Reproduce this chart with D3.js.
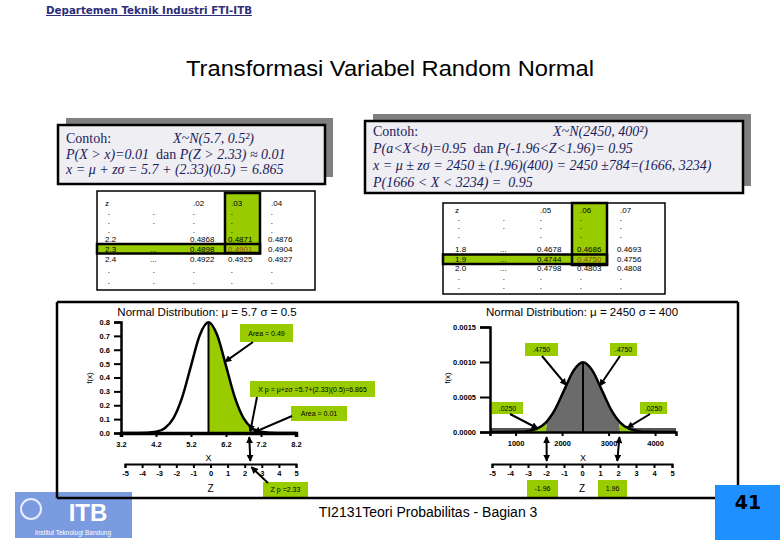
<!DOCTYPE html>
<html><head><meta charset="utf-8">
<script src="https://cdn.jsdelivr.net/npm/d3@7"></script>
<style>
body{margin:0;background:#fff;}
svg{display:block;}
</style></head><body>
<svg id="c" width="780" height="540"></svg>
<script>
// ---------------- DATA ----------------
const headerText = "Departemen Teknik Industri FTI-ITB";
const titleText = "Transformasi Variabel Random Normal";
const footerText = "TI2131Teori Probabilitas - Bagian 3";
const pageNumber = "41";
const logoName = "Institut Teknologi Bandung";

// example boxes: lines of [text, italic]
const leftHeading = ["Contoh:", "X~N(5.7, 0.5²)"];
const leftLines = [
  [["P(X > x)=0.01", true], ["  dan ", false], ["P(Z > 2.33) ≈ 0.01", true]],
  [["x = μ + zσ = 5.7 + (2.33)(0.5) = 6.865", true]]
];
const rightHeading = ["Contoh:", "X~N(2450, 400²)"];
const rightLines = [
  [["P(a<X<b)=0.95", true], ["  dan ", false], ["P(-1.96<Z<1.96)= 0.95", true]],
  [["x = μ ± zσ = 2450 ± (1.96)(400) = 2450 ±784=(1666, 3234)", true]],
  [["P(1666 < X < 3234) =  0.95", true]]
];

// z tables
const leftTableRows = [
  ["z", "", ".02", ".03", ".04"],
  [".", ".", ".", ".", "."],
  [".", ".", ".", ".", "."],
  [".", "", ".", ".", "."],
  ["2.2", "", "0.4868", "0.4871", "0.4876"],
  ["2.3", "...", "0.4898", "0.4901", "0.4904"],
  ["2.4", "...", "0.4922", "0.4925", "0.4927"],
  [".", ".", ".", ".", "."],
  [".", ".", ".", ".", "."]
];
const rightTableRows = [
  ["z", "", ".05", ".06", ".07"],
  [".", ".", ".", ".", "."],
  [".", ".", ".", ".", "."],
  [".", "", ".", ".", "."],
  ["1.8", "...", "0.4678", "0.4686", "0.4693"],
  ["1.9", "...", "0.4744", "0.4750", "0.4756"],
  ["2.0", "...", "0.4798", "0.4803", "0.4808"],
  [".", ".", ".", ".", "."],
  [".", ".", ".", ".", "."]
];

// left distribution N(5.7, 0.5^2) — curve samples
const leftMu = 5.7, leftXp = 6.865, leftZp = 2.33;
const leftCurveX = [3.2,3.45,3.7,3.95,4.2,4.45,4.7,4.95,5.2,5.45,5.7,5.95,6.2,6.45,6.7,6.95,7.2,7.45,7.7,7.95,8.2];
const leftCurveY = [0.0000,0.0000,0.0003,0.0017,0.0089,0.0350,0.1080,0.2591,0.4839,0.7041,0.7979,0.7041,0.4839,0.2591,0.1080,0.0350,0.0089,0.0017,0.0003,0.0000,0.0000];
const leftXTicks = [3.2,4.2,5.2,6.2,7.2,8.2];
const leftYTicks = [0,0.1,0.2,0.3,0.4,0.5,0.6,0.7,0.8];
const zTicks = [-5,-4,-3,-2,-1,0,1,2,3,4,5];
const leftTitle = "Normal Distribution: μ = 5.7 σ = 0.5";

// right distribution N(2450, 400^2)
const rightMu = 2450, rightLo = 1666, rightHi = 3234;
const rightCurveX = [450,650,850,1050,1250,1450,1650,1850,2050,2250,2450,2650,2850,3050,3250,3450,3650,3850,4050,4250,4450];
const rightCurveY = [0.0000000,0.0000000,0.0000003,0.0000022,0.0000111,0.0000438,0.0001349,0.0003238,0.0006049,0.0008801,0.0009973,0.0008801,0.0006049,0.0003238,0.0001349,0.0000438,0.0000111,0.0000022,0.0000003,0.0000000,0.0000000];
const rightXTicks = [1000,2000,3000,4000];
const rightYTicks = [0,0.0005,0.0010,0.0015];
const rightTitle = "Normal Distribution: μ = 2450 σ = 400";

// annotation labels
const leftAnn = {area49: "Area = 0.49", xp: "X p = μ+zσ =5.7+(2.33)(0.5)=6.865", area01: "Area = 0.01", zp: "Z p =2.33"};
const rightAnn = {mid: ".4750", tail: ".0250", zLo: "-1.96", zHi: "1.96"};

// ---------------- DRAW ----------------
const svg = d3.select("#c");
const GREEN = "#99cc00", DGRAY = "#6b6b6b", NAVY = "#1c1c5c";
const defs = svg.append("defs");
defs.append("marker").attr("id","ah").attr("viewBox","0 0 10 10")
  .attr("refX",9).attr("refY",5).attr("markerWidth",7).attr("markerHeight",7)
  .attr("markerUnits","userSpaceOnUse").attr("orient","auto-start-reverse")
  .append("path").attr("d","M0,0L10,5L0,10z").attr("fill","#000");

// header & title
svg.append("text").attr("x",46).attr("y",14).text(headerText)
  .attr("font-family","DejaVu Sans, Verdana").attr("font-weight","bold").attr("font-size",10)
  .attr("fill","#2e2e7a").attr("text-decoration","underline")
  .attr("textLength",206).attr("lengthAdjust","spacingAndGlyphs");
svg.append("text").attr("x",390).attr("y",76).attr("text-anchor","middle").text(titleText)
  .attr("font-family","Liberation Sans, Arial").attr("font-size",22).attr("fill","#000")
  .attr("textLength",408).attr("lengthAdjust","spacingAndGlyphs");

// example boxes
function drawBox(x, y, w, h, heading, headOffset, lines, y0, lh, fs) {
  svg.append("rect").attr("x",x+8).attr("y",y-7).attr("width",w).attr("height",h).attr("fill","#808080");
  svg.append("rect").attr("x",x).attr("y",y).attr("width",w).attr("height",h)
    .attr("fill","#eeeef3").attr("stroke","#000").attr("stroke-width",2.5);
  const g = svg.append("g").attr("font-family","Liberation Serif, Times New Roman").attr("font-size",fs).attr("fill",NAVY);
  g.append("text").attr("x",x+8).attr("y",y0).text(heading[0]);
  g.append("text").attr("x",x+8+headOffset).attr("y",y0).attr("font-style","italic").text(heading[1]);
  lines.forEach((segs,i)=>{
    const t = g.append("text").attr("x",x+8).attr("y",y0+lh*(i+1)).attr("xml:space","preserve");
    segs.forEach(s=>t.append("tspan").attr("font-style",s[1]?"italic":"normal").text(s[0]));
  });
}
drawBox(58,125,267,59,leftHeading,107,leftLines,143,15.5,14);
drawBox(365,121,378,72,rightHeading,180,rightLines,136,17,14);

// z tables
function drawTable(rows, fx, fy, fw, fh, colX, rowY, hc, hr, hcRect, hrRect) {
  const g = svg.append("g");
  g.append("rect").attr("x",fx).attr("y",fy).attr("width",fw).attr("height",fh).attr("fill","#fff").attr("stroke","#000").attr("stroke-width",1.5);
  g.append("rect").attr("x",hcRect[0]).attr("y",hcRect[1]).attr("width",hcRect[2]).attr("height",hcRect[3]).attr("fill",GREEN);
  g.append("rect").attr("x",hrRect[0]).attr("y",hrRect[1]).attr("width",hrRect[2]).attr("height",hrRect[3]).attr("fill",GREEN);
  g.append("rect").attr("x",hcRect[0]).attr("y",hcRect[1]).attr("width",hcRect[2]).attr("height",hcRect[3]).attr("fill","none").attr("stroke","#000").attr("stroke-width",2.5);
  g.append("rect").attr("x",hrRect[0]).attr("y",hrRect[1]).attr("width",hrRect[2]).attr("height",hrRect[3]).attr("fill","none").attr("stroke","#000").attr("stroke-width",2.5);
  const tg = g.append("g").attr("font-family","Liberation Sans, Arial").attr("font-size",8);
  rows.forEach((r,i)=>{
    r.forEach((v,j)=>{
      if(!v) return;
      const hdr = (i===0 && j>=2);
      const isDot = v===".";
      tg.append("text").attr("x",colX[j]+(hdr?3:(isDot?3:0))).attr("y",rowY[i]).text(v)
        .attr("font-size",isDot?6:8)
        .attr("fill",(i===hr && j===hc)?"#a0401a":"#000")
        .attr("font-weight",isDot?"bold":"normal");
    });
  });
}
drawTable(leftTableRows,97,191,218,99,[105,150,190,228,268],[206,215,224,233,242,251.5,262,273,284],3,5,[225,193,35,60],[97,244,163,9.5]);
drawTable(rightTableRows,443,203,222,91,[455,500,537,577,617],[213,221,229,238,252,261.5,271,280,289],3,5,[572,203,35,62],[443,254.5,164,9.5]);

// ---------- chart helpers ----------
function styleAxis(g, sw) {
  g.selectAll("path.domain").attr("stroke","#000").attr("stroke-width",sw);
  g.selectAll(".tick line").attr("stroke","#000").attr("stroke-width",2);
  g.selectAll(".tick text").attr("font-family","Liberation Sans, Arial").attr("font-size",7.5).attr("font-weight","bold").attr("fill","#000");
}
function arrow(x1,y1,x2,y2,both){
  const l = svg.append("line").attr("x1",x1).attr("y1",y1).attr("x2",x2).attr("y2",y2)
    .attr("stroke","#000").attr("stroke-width",2).attr("marker-end","url(#ah)");
  if(both) l.attr("marker-start","url(#ah)");
}
function label(x,y,w,h,txt){
  svg.append("rect").attr("x",x).attr("y",y).attr("width",w).attr("height",h).attr("fill",GREEN);
  svg.append("text").attr("x",x+w/2).attr("y",y+h/2+2.5).attr("text-anchor","middle")
    .attr("font-family","Liberation Sans, Arial").attr("font-size",7).attr("fill","#000").text(txt);
}
let clipId = 0;
function clippedArea(pts, xS, yS, x0, x1, fill){
  const id = "cl"+(clipId++);
  defs.append("clipPath").attr("id",id).append("rect")
    .attr("x",xS(x0)).attr("y",0).attr("width",xS(x1)-xS(x0)).attr("height",540);
  const area = d3.area().x(d=>xS(d[0])).y0(yS(0)).y1(d=>yS(d[1])).curve(d3.curveMonotoneX);
  svg.append("path").datum(pts).attr("d",area).attr("fill",fill).attr("clip-path","url(#"+id+")");
}
const intFmt = d => String(d);

// ---------- left chart ----------
const xL = d3.scaleLinear().domain([3.2,8.2]).range([121,296]);
const yL = d3.scaleLinear().domain([0,0.8]).range([433,322]);
const zL = d3.scaleLinear().domain([-5,5]).range([125,296]);
const ptsL = leftCurveX.map((x,i)=>[x,leftCurveY[i]]);
svg.append("text").attr("x",207).attr("y",316).attr("text-anchor","middle").text(leftTitle)
  .attr("font-family","Liberation Sans, Arial").attr("font-size",11.5);
clippedArea(ptsL,xL,yL,leftMu,leftXp,GREEN);
clippedArea(ptsL,xL,yL,leftXp,8.2,DGRAY);
svg.append("line").attr("x1",xL(leftMu)).attr("x2",xL(leftMu)).attr("y1",yL(0)).attr("y2",yL(d3.max(leftCurveY)))
  .attr("stroke","#000").attr("stroke-width",2);
svg.append("path").datum(ptsL).attr("d",d3.line().x(d=>xL(d[0])).y(d=>yL(d[1])).curve(d3.curveMonotoneX))
  .attr("fill","none").attr("stroke","#000").attr("stroke-width",2.5);
styleAxis(svg.append("g").attr("transform","translate(0,433)")
  .call(d3.axisBottom(xL).tickValues(leftXTicks).tickFormat(d3.format(".1f")).tickSizeOuter(0).tickSize(4).tickPadding(5)),3.5);
styleAxis(svg.append("g").attr("transform","translate(121,0)")
  .call(d3.axisLeft(yL).tickValues(leftYTicks).tickFormat(d3.format(".1f")).tickSizeOuter(0).tickSize(7).tickPadding(4)),2.5);
styleAxis(svg.append("g").attr("transform","translate(0,464)")
  .call(d3.axisBottom(zL).tickValues(zTicks).tickFormat(intFmt).tickSizeOuter(0).tickSize(4).tickPadding(3)),2);
svg.append("text").attr("transform","translate(92,378) rotate(-90)").attr("text-anchor","middle").text("f(x)")
  .attr("font-family","Liberation Sans, Arial").attr("font-size",8);
svg.append("text").attr("x",xL(leftMu)).attr("y",461).attr("text-anchor","middle").text("X")
  .attr("font-family","Liberation Sans, Arial").attr("font-size",9);
svg.append("text").attr("x",zL(0)).attr("y",492).attr("text-anchor","middle").text("Z")
  .attr("font-family","Liberation Sans, Arial").attr("font-size",10);
label(240,324,53,18,leftAnn.area49);
arrow(253,342,xL(6.17),yL(0.513));
label(250,381,125,16,leftAnn.xp);
arrow(257,397,xL(leftXp)+1,yL(0.012));
label(291,406,56,15,leftAnn.area01);
arrow(292,416,xL(7.0),yL(0.004));
arrow(xL(leftXp),437,zL(leftZp),461,true);
label(263,482,45,15,leftAnn.zp);
arrow(268,483,zL(leftZp)+1,467);

// ---------- right chart ----------
const xR = d3.scaleLinear().domain([450,4450]).range([490,676]);
const yR = d3.scaleLinear().domain([0,0.0015]).range([432,327]);
const zR = d3.scaleLinear().domain([-5,5]).range([492,672]);
const ptsR = rightCurveX.map((x,i)=>[x,rightCurveY[i]]);
svg.append("text").attr("x",582).attr("y",316).attr("text-anchor","middle").text(rightTitle)
  .attr("font-family","Liberation Sans, Arial").attr("font-size",11.5);
svg.append("rect").attr("x",xR(450)).attr("y",428).attr("width",xR(4450)-xR(450)).attr("height",4).attr("fill","#555");
clippedArea(ptsR,xR,yR,450,rightLo,GREEN);
clippedArea(ptsR,xR,yR,rightLo,rightHi,DGRAY);
clippedArea(ptsR,xR,yR,rightHi,4450,GREEN);
svg.append("line").attr("x1",xR(rightMu)).attr("x2",xR(rightMu)).attr("y1",yR(0)).attr("y2",yR(d3.max(rightCurveY)))
  .attr("stroke","#000").attr("stroke-width",2);
svg.append("path").datum(ptsR).attr("d",d3.line().x(d=>xR(d[0])).y(d=>yR(d[1])).curve(d3.curveMonotoneX))
  .attr("fill","none").attr("stroke","#000").attr("stroke-width",2.5);
styleAxis(svg.append("g").attr("transform","translate(0,432)")
  .call(d3.axisBottom(xR).tickValues(rightXTicks).tickFormat(intFmt).tickSizeOuter(0).tickSize(4).tickPadding(5)),2.5);
styleAxis(svg.append("g").attr("transform","translate(490,0)")
  .call(d3.axisLeft(yR).tickValues(rightYTicks).tickFormat(d3.format(".4f")).tickSizeOuter(0).tickSize(10).tickPadding(4)),2.5);
styleAxis(svg.append("g").attr("transform","translate(0,464)")
  .call(d3.axisBottom(zR).tickValues(zTicks).tickFormat(intFmt).tickSizeOuter(0).tickSize(4).tickPadding(3)),2);
svg.append("text").attr("transform","translate(450,378) rotate(-90)").attr("text-anchor","middle").text("f(x)")
  .attr("font-family","Liberation Sans, Arial").attr("font-size",8);
svg.append("text").attr("x",xR(rightMu)).attr("y",461).attr("text-anchor","middle").text("X")
  .attr("font-family","Liberation Sans, Arial").attr("font-size",9);
svg.append("text").attr("x",zR(0)).attr("y",492).attr("text-anchor","middle").text("Z")
  .attr("font-family","Liberation Sans, Arial").attr("font-size",10);
label(525,343,33,13,rightAnn.mid);
arrow(542,356,xR(2090),yR(0.00067));
label(610,343,27,13,rightAnn.mid);
arrow(620,356,xR(2810),yR(0.00066));
label(492,402,31,12,rightAnn.tail);
arrow(510,414,xR(1480),yR(0.00005));
label(640,402,27,12,rightAnn.tail);
arrow(650,414,xR(3400),yR(0.00006));
arrow(xR(rightLo),437,zR(-1.96),461,true);
arrow(xR(rightHi),437,zR(1.96),461,true);
label(527,480,31,17,rightAnn.zLo);
label(598,480,29,17,rightAnn.zHi);

// ---------- logo ----------
svg.append("rect").attr("x",15).attr("y",492).attr("width",117).attr("height",46).attr("fill","#7b9be0");
svg.append("circle").attr("cx",31).attr("cy",509).attr("r",10).attr("fill","none").attr("stroke","#e8eeff").attr("stroke-width",2);
svg.append("text").attr("x",88).attr("y",521).attr("text-anchor","middle").text("ITB")
  .attr("font-family","Liberation Sans, Arial").attr("font-weight","bold").attr("font-size",24).attr("fill","#fff");
svg.append("text").attr("x",73).attr("y",535).attr("text-anchor","middle").text(logoName)
  .attr("font-family","Liberation Sans, Arial").attr("font-size",6.5).attr("fill","#fff");

// ---------- frame ----------
const fr = svg.append("g").attr("stroke","#000").attr("stroke-width",2.5);
fr.append("line").attr("x1",57).attr("y1",302).attr("x2",738).attr("y2",302);
fr.append("line").attr("x1",57).attr("y1",302).attr("x2",57).attr("y2",498);
fr.append("line").attr("x1",57).attr("y1",498).attr("x2",715).attr("y2",498);
fr.append("line").attr("x1",738).attr("y1",302).attr("x2",738).attr("y2",485);

// footer & page number
svg.append("text").attr("x",428).attr("y",517).attr("text-anchor","middle").text(footerText)
  .attr("font-family","Liberation Sans, Arial").attr("font-size",14).attr("fill","#000");
svg.append("rect").attr("x",715).attr("y",485).attr("width",65).attr("height",55).attr("fill","#1e90ff");
svg.append("text").attr("x",748).attr("y",509).attr("text-anchor","middle").text(pageNumber)
  .attr("font-family","DejaVu Sans, Verdana").attr("font-weight","bold").attr("font-size",19).attr("fill","#000");
</script>
</body></html>
